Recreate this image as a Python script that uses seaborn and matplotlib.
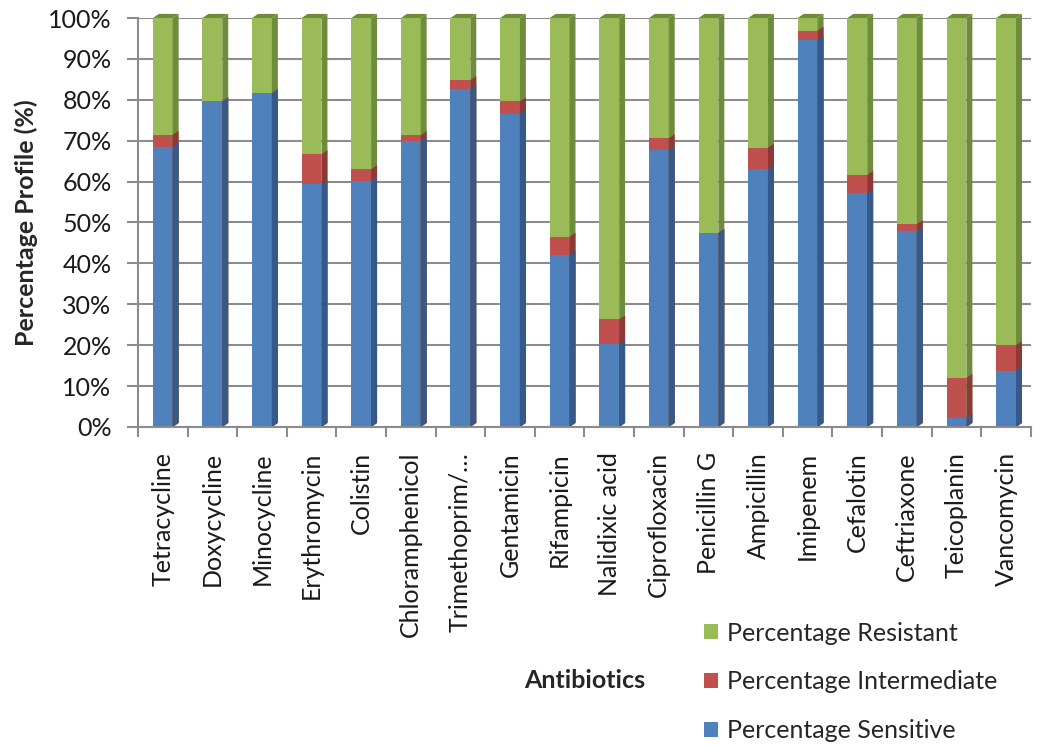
import pandas as pd
import matplotlib
matplotlib.use("Agg")
import matplotlib.pyplot as plt
import seaborn as sns
from matplotlib.patches import Polygon, Patch
from matplotlib.ticker import MultipleLocator, FuncFormatter

# Werte (in %)
antibiotics = ["Tetracycline", "Doxycycline", "Minocycline", "Erythromycin", "Colistin",
               "Chloramphenicol", "Trimethoprim/…", "Gentamicin", "Rifampicin",
               "Nalidixic acid", "Ciprofloxacin", "Penicillin G", "Ampicillin",
               "Imipenem", "Cefalotin", "Ceftriaxone", "Teicoplanin", "Vancomycin"]
sensitive = [68.5, 79.6, 81.6, 59.3, 60.1, 69.9, 82.6, 76.6, 42.1,
             20.3, 67.7, 47.4, 63.0, 94.6, 57.1, 48.0, 2.2, 13.8]
intermediate = [2.9, 0.0, 0.0, 7.4, 2.9, 1.4, 2.2, 3.0, 4.4,
                6.0, 2.9, 0.0, 5.3, 2.3, 4.5, 1.6, 9.8, 6.2]
resistant = [28.6, 20.4, 18.4, 33.3, 37.0, 28.7, 15.2, 20.4, 53.5,
             73.7, 29.4, 52.6, 31.7, 3.1, 38.4, 50.4, 88.0, 80.0]

series_names = ["Percentage Resistant", "Percentage Intermediate", "Percentage Sensitive"]
colors = ["#9BBB59", "#C0504D", "#4F81BD"]
side_colors = ["#6F8B3C", "#8E3936", "#36598A"]

df = pd.DataFrame({"Antibiotic": antibiotics, "S": sensitive,
                   "I": intermediate, "R": resistant})
df["top_R"] = df["S"] + df["I"] + df["R"]
df["top_I"] = df["S"] + df["I"]
df["top_S"] = df["S"]

sns.set_style("white")
plt.rcParams["font.family"] = ["Lato", "DejaVu Sans"]
fs = 18

fig = plt.figure(figsize=(10.45, 7.47), dpi=100)
ax = fig.add_axes([0.132, 0.4284, 0.8545, 0.5475])

# Gestapelte Balken: zuerst die Gesamthöhe, dann darüberliegende Teilsummen
for col, c in zip(["top_R", "top_I", "top_S"], colors):
    sns.barplot(data=df, x="Antibiotic", y=col, color=c, width=0.4,
                saturation=1, errorbar=None, linewidth=0, ax=ax)

# 3D-Effekt: Seitenflächen und Deckfläche
dx, dy = 0.12, 1.0
n = len(antibiotics)
bars = list(ax.patches)
for k in range(3):
    for p in bars[k * n:(k + 1) * n]:
        x0, w, h = p.get_x(), p.get_width(), p.get_height()
        side = Polygon([(x0 + w, 0), (x0 + w + dx, dy), (x0 + w + dx, h + dy), (x0 + w, h)],
                       closed=True, facecolor=side_colors[k], edgecolor="none",
                       clip_on=False, zorder=2)
        ax.add_patch(side)
        if k == 0:
            top = Polygon([(x0, h), (x0 + dx, h + dy), (x0 + w + dx, h + dy), (x0 + w, h)],
                          closed=True, facecolor=side_colors[k], edgecolor="none",
                          clip_on=False, zorder=2)
            ax.add_patch(top)

ax.set_xlim(-0.5, n - 0.5)
ax.set_ylim(0, 100)
ax.yaxis.set_major_locator(MultipleLocator(10))
ax.yaxis.set_major_formatter(FuncFormatter(lambda v, pos: f"{int(v)}%"))
ax.grid(axis="y", color="#8C8C8C", linewidth=1.5)
ax.set_axisbelow(True)

for s in ["top", "right"]:
    ax.spines[s].set_visible(False)
for s in ["left", "bottom"]:
    ax.spines[s].set_color("#8C8C8C")
    ax.spines[s].set_linewidth(1.5)

# Kategoriegrenzen als Striche
ax.set_xticks([i + 0.5 for i in range(-1, n)], minor=True)
ax.tick_params(axis="x", which="minor", length=7, width=1.5, color="#8C8C8C", bottom=True)
ax.tick_params(axis="x", which="major", length=0, pad=18, labelsize=fs, labelcolor="#1A1A1A")
ax.tick_params(axis="y", length=8, width=1.5, color="#8C8C8C", left=True,
               pad=11, labelsize=fs, labelcolor="#1A1A1A")
plt.setp(ax.get_xticklabels(), rotation=90)

ax.set_ylabel("Percentage Profile (%)", fontsize=fs, fontweight="bold", labelpad=7)
ax.set_xlabel("Antibiotics", fontsize=fs, fontweight="bold")
ax.xaxis.set_label_coords(0.5, -0.619)
ax.xaxis.label.set_va("center")

handles = [Patch(facecolor=c, edgecolor="none") for c in colors]
fig.legend(handles, series_names, loc="upper left", bbox_to_anchor=(0.674, 0.168),
           frameon=False, fontsize=fs, handlelength=0.56, handleheight=0.56,
           handletextpad=0.35, labelspacing=1.03, borderpad=0, borderaxespad=0)

plt.savefig("out.png", dpi=100)
